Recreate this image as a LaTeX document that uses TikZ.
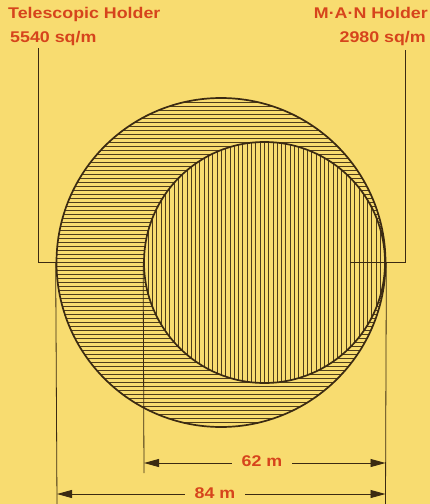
\documentclass[tikz,border=0pt]{standalone}
\usepackage{fontspec}
\setmainfont{Liberation Sans}
\newfontfamily\labfont[FakeStretch=1.15]{Liberation Sans}
\usetikzlibrary{arrows.meta}
\definecolor{bg}{HTML}{F8DC70}
\definecolor{ink}{HTML}{3B2A12}
\definecolor{lab}{HTML}{D6441C}
\begin{document}
\begin{tikzpicture}[x=1pt,y=-1pt,
  outline/.style={draw=ink,line width=1.7pt,circle,inner sep=0pt},
  hatchline/.style={draw=ink!90!bg,line width=0.85pt},
  leader/.style={draw=ink,line width=0.8pt},
  dimline/.style={draw=ink,line width=0.9pt,{Triangle[length=15pt,width=8pt]}-{Triangle[length=15pt,width=8pt]}},
  titletext/.style={text=lab,font=\labfont\bfseries\fontsize{15.5}{17}\selectfont,inner sep=0pt},
  dimlabel/.style={text=lab,fill=bg,font=\labfont\bfseries\fontsize{15.5}{17}\selectfont,inner xsep=10pt,inner ysep=2pt}]
\fill[bg] (0,0) rectangle (430,504);
\useasboundingbox (0,0) rectangle (430,504);
% hatching
\begin{scope}[even odd rule]
  \clip (221,262.5) circle[radius=164.5pt] (264.5,262.5) circle[radius=120.5pt];
  \foreach \y in {98,102,...,430} \draw[hatchline] (50,\y) -- (392,\y);
\end{scope}
\begin{scope}
  \clip (264.5,262.5) circle[radius=120.5pt];
  \foreach \x in {144,148.3,...,388} \draw[hatchline] (\x,140) -- (\x,386);
\end{scope}
% circles
\node[outline,minimum size=329pt] (big) at (221,262.5) {};
\node[outline,minimum size=241pt] (small) at (264.5,262.5) {};
% titles
\node[titletext,anchor=base west] (t1) at (8,18.5) {Telescopic Holder};
\node[titletext,anchor=base west] (a1) at (10,42.5) {5540 sq/m};
\node[titletext,anchor=base east] (t2) at (428,18.5) {M·A·N Holder};
\node[titletext,anchor=base east] (a2) at (426,42.5) {2980 sq/m};
% leaders
\coordinate (ltop) at (38,48);
\coordinate (rtop) at (405,50);
\coordinate (rin) at (350,262.5);
\draw[leader] (ltop) |- (big.west);
\draw[leader] (rtop) |- (rin);
% extension lines
\coordinate (e84l) at (57,504);
\coordinate (e84r) at (385.5,504);
\coordinate (e62l) at (144,473);
\draw[leader] (big.west) -- (e84l);
\draw[leader] (big.east) -- (e84r);
\draw[leader] (small.west) -- (e62l);
% dimension lines
\coordinate (d62l) at (144,463);
\coordinate (d62r) at (385.5,463);
\coordinate (d84l) at (57,494);
\coordinate (d84r) at (385.5,494);
\draw[dimline] (d62l) -- (d62r);
\draw[dimline] (d84l) -- (d84r);
\node[dimlabel] (l62) at (262,461.5) {62 m};
\node[dimlabel] (l84) at (215,493) {84 m};
\end{tikzpicture}
\end{document}
